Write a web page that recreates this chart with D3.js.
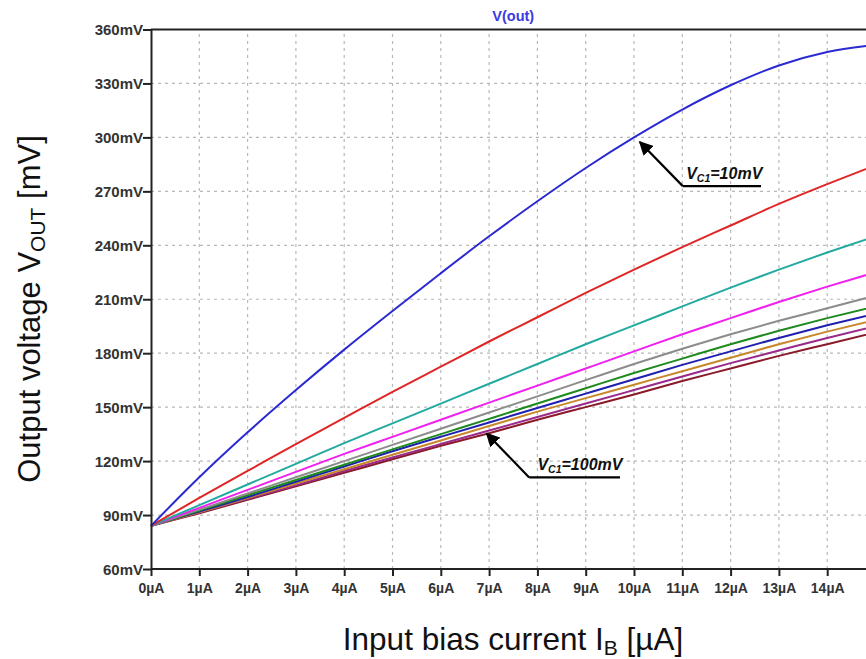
<!DOCTYPE html>
<html>
<head>
<meta charset="utf-8">
<script src="https://cdn.jsdelivr.net/npm/d3@7"></script>
<style>
  html, body { margin: 0; padding: 0; background: #fff; }
  svg { display: block; }
</style>
</head>
<body>
<svg id="chart" width="866" height="659"></svg>
<script>
// ---- data ----
const currents = [0, 1, 2, 3, 4, 5, 6, 7, 8, 9, 10, 11, 12, 13, 14, 15]; // µA
const vc1Labels = ["10mV", "20mV", "30mV", "40mV", "50mV", "60mV", "70mV", "80mV", "90mV", "100mV"];
const vc1_10  = [84, 111, 136, 159.5, 182, 203.5, 224.5, 245, 264.5, 283, 300, 315.5, 329, 340, 347.5, 351.5];
const vc1_20  = [84, 99.5, 114.5, 129.5, 144, 158.5, 172.5, 186.5, 200, 213.5, 226.5, 239, 251, 263, 274, 284.5];
const vc1_30  = [84, 95.5, 107, 118.5, 130, 141, 152, 163, 174, 185, 195.5, 206, 216.5, 226.5, 236, 245];
const vc1_40  = [84, 94, 104, 114, 124, 133.5, 143, 152.5, 162, 171.5, 181, 190.5, 199.5, 208.5, 217, 225];
const vc1_50  = [84, 93, 102, 111, 120, 129, 138, 147, 156, 165, 174, 182.5, 190.5, 198, 205, 212];
const vc1_60  = [84, 92.5, 101, 109.5, 118, 126.5, 135, 143.5, 152, 160.5, 169, 177, 185, 192.5, 199.5, 206];
const vc1_70  = [84, 92, 100, 108.5, 117, 125.5, 133.5, 141.5, 149.5, 157.5, 165.5, 173.5, 181, 188.5, 195.5, 202];
const vc1_80  = [84, 91.5, 99.5, 107.5, 115.5, 123.5, 131.5, 139.5, 147.5, 155, 162.5, 170, 177.5, 185, 192, 198.5];
const vc1_90  = [84, 91.5, 99, 106.5, 114.5, 122, 129.5, 137, 144.5, 152, 159.5, 167, 174.5, 181.5, 188.5, 195];
const vc1_100 = [84, 91, 98.5, 106, 113.5, 121, 128.5, 135.5, 143, 150, 157, 164.5, 171.5, 178.5, 185, 191.5];
const seriesValues = [vc1_10, vc1_20, vc1_30, vc1_40, vc1_50, vc1_60, vc1_70, vc1_80, vc1_90, vc1_100];
const seriesColors = ["#2a2ad2", "#e02525", "#22aaa0", "#f020f0", "#8c8c8c", "#1e8a1e", "#1f1fb0", "#c8882a", "#9a2a8a", "#8a1a2a"];
const xTicks = [0, 1, 2, 3, 4, 5, 6, 7, 8, 9, 10, 11, 12, 13, 14];
const yTicks = [60, 90, 120, 150, 180, 210, 240, 270, 300, 330, 360];
// annotations: [tipX, tipY, tailX, tailY, underlineEndX, textX, textY, sub, rest]
const annot10  = [10.12, 297.5, 11.01, 272.9, 12.63, 11.08, 277.0, "C1", "=10mV"];
const annot100 = [6.95, 135.4, 7.83, 110.9, 9.71, 8.0, 114.8, "C1", "=100mV"];

// ---- layout ----
const svg = d3.select("#chart");
const x = d3.scaleLinear().domain([0, 15]).range([151, 875.5]);
const y = d3.scaleLinear().domain([60, 360]).range([569, 29.5]);
const tickFont = "'Liberation Sans', Arial, sans-serif";

// grid
const grid = svg.append("g");
grid.selectAll("line.v").data(xTicks.slice(1)).join("line")
  .attr("x1", d => x(d)).attr("x2", d => x(d))
  .attr("y1", y(60)).attr("y2", y(360))
  .attr("stroke", "#b8b8b8").attr("stroke-width", 1.2).attr("stroke-dasharray", "3,4");
grid.selectAll("line.h").data(yTicks.slice(1, -1)).join("line")
  .attr("x1", x(0)).attr("x2", 866)
  .attr("y1", d => y(d)).attr("y2", d => y(d))
  .attr("stroke", "#b8b8b8").attr("stroke-width", 1.2).attr("stroke-dasharray", "3,4");

// curves
const line = d3.line()
  .x((d, i) => x(currents[i]))
  .y(d => y(d))
  .curve(d3.curveMonotoneX);
const curveG = svg.append("g");
seriesValues.slice().reverse().forEach((vals, k) => {
  const idx = seriesValues.length - 1 - k;
  curveG.append("path")
    .attr("d", line(vals))
    .attr("fill", "none")
    .attr("stroke", seriesColors[idx])
    .attr("stroke-width", 2);
});

// frame
svg.append("line").attr("x1", x(0)).attr("x2", 866).attr("y1", y(360)).attr("y2", y(360))
  .attr("stroke", "#222").attr("stroke-width", 2);

// axes
const xAxis = d3.axisBottom(x).tickValues(xTicks).tickFormat(d => d + "µA").tickSize(7).tickSizeOuter(0);
const yAxis = d3.axisLeft(y).tickValues(yTicks).tickFormat(d => d + "mV").tickSize(8).tickSizeOuter(0);
const gx = svg.append("g").attr("transform", `translate(0,${y(60)})`).call(xAxis);
gx.select(".domain").attr("d", `M${x(0)},0H866`).attr("stroke", "#222").attr("stroke-width", 2);
gx.selectAll(".tick line").attr("stroke", "#222").attr("stroke-width", 2);
gx.selectAll(".tick text").attr("font-family", tickFont).attr("font-weight", "bold")
  .attr("font-size", 14).attr("fill", "#333").attr("dy", "1.0em");
const gy = svg.append("g").attr("transform", `translate(${x(0)},0)`).call(yAxis);
gy.select(".domain").attr("stroke", "#222").attr("stroke-width", 2);
gy.selectAll(".tick line").attr("stroke", "#222").attr("stroke-width", 2);
gy.selectAll(".tick text").attr("font-family", tickFont).attr("font-weight", "bold")
  .attr("font-size", 15).attr("fill", "#333").attr("x", -8).attr("dy", "0.35em");

// title
svg.append("text").attr("x", x(7.5)).attr("y", 21).attr("text-anchor", "middle")
  .attr("font-family", tickFont).attr("font-weight", "bold").attr("font-size", 14.5)
  .attr("fill", "#3a3ae0").text("V(out)");

// axis titles
const xt = svg.append("text").attr("x", 513).attr("y", 650).attr("text-anchor", "middle")
  .attr("font-family", "Arial, 'Liberation Sans', sans-serif").attr("font-size", 31.5).attr("fill", "#111");
xt.append("tspan").text("Input bias current I");
xt.append("tspan").attr("font-size", 21).attr("dy", 5).text("B");
xt.append("tspan").attr("dy", -5).text(" [µA]");

const yt = svg.append("text").attr("transform", "translate(40,309) rotate(-90)").attr("text-anchor", "middle")
  .attr("font-family", "Arial, 'Liberation Sans', sans-serif").attr("font-size", 31).attr("fill", "#111");
yt.append("tspan").text("Output voltage V");
yt.append("tspan").attr("font-size", 21).attr("dy", 5).text("OUT");
yt.append("tspan").attr("dy", -5).text(" [mV]");

// annotations
svg.append("defs").append("marker").attr("id", "ah").attr("viewBox", "0 0 10 10")
  .attr("refX", 9).attr("refY", 5).attr("markerWidth", 14).attr("markerHeight", 14)
  .attr("markerUnits", "userSpaceOnUse").attr("orient", "auto")
  .append("path").attr("d", "M0,0L10,5L0,10Z").attr("fill", "#000");

[annot10, annot100].forEach(a => {
  const [tx, ty, sx, sy, ux, lx, ly, sub, rest] = a;
  svg.append("line").attr("x1", x(sx)).attr("y1", y(sy)).attr("x2", x(tx)).attr("y2", y(ty))
    .attr("stroke", "#000").attr("stroke-width", 2.2).attr("marker-end", "url(#ah)");
  svg.append("line").attr("x1", x(sx)).attr("y1", y(sy)).attr("x2", x(ux)).attr("y2", y(sy))
    .attr("stroke", "#000").attr("stroke-width", 2.2);
  const t = svg.append("text").attr("x", x(lx)).attr("y", y(ly))
    .attr("font-family", tickFont).attr("font-weight", "bold").attr("font-style", "italic")
    .attr("font-size", 16).attr("fill", "#111");
  t.append("tspan").text("V");
  t.append("tspan").attr("font-size", 10.5).attr("dy", 3).text(sub);
  t.append("tspan").attr("dy", -3).text(rest);
});
</script>
</body>
</html>
